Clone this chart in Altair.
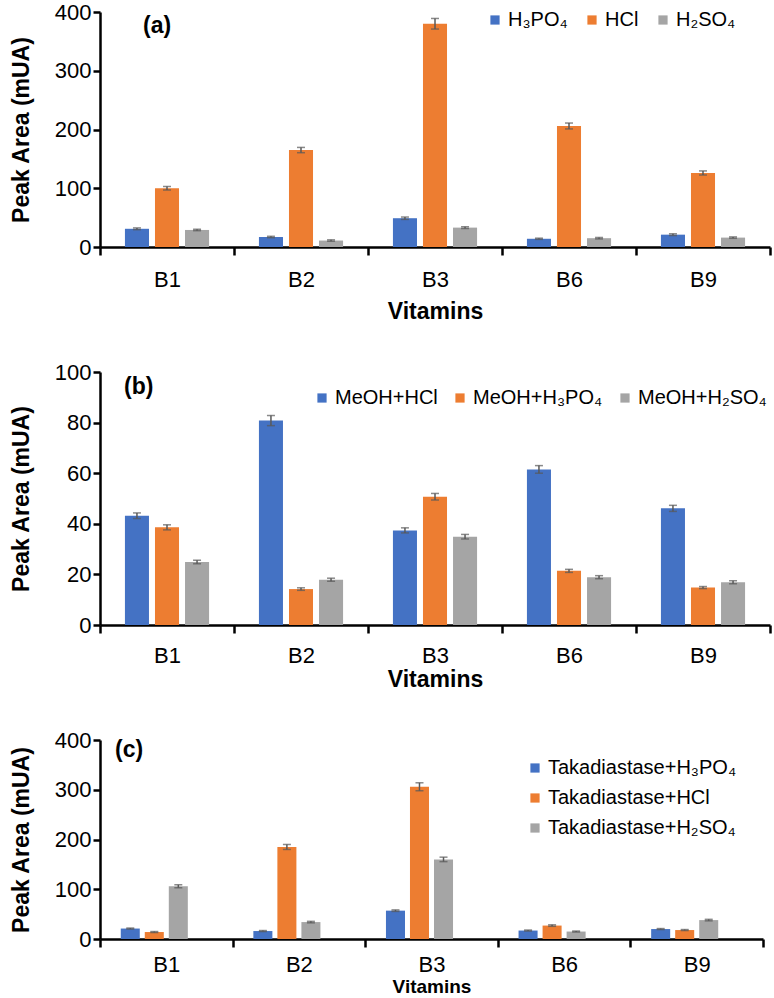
import altair as alt
import pandas as pd

vitamins = ["B1", "B2", "B3", "B6", "B9"]

# (a) acid hydrolysis
acid_series = ["H₃PO₄", "HCl", "H₂SO₄"]
acid_h3po4 = [31, 17, 49, 14, 21]
acid_hcl = [100, 165, 380, 206, 126]
acid_h2so4 = [29, 11, 33, 15, 16]
acid_err_h3po4 = [1.5, 1.2, 2.0, 1.0, 1.5]
acid_err_hcl = [3.0, 4.5, 9.0, 5.0, 3.5]
acid_err_h2so4 = [1.2, 1.2, 1.5, 1.2, 1.2]

# (b) methanol + acid
meoh_series = ["MeOH+HCl", "MeOH+H₃PO₄", "MeOH+H₂SO₄"]
meoh_hcl = [43.2, 80.8, 37.4, 61.5, 46.1]
meoh_h3po4 = [38.6, 14.2, 50.7, 21.4, 14.8]
meoh_h2so4 = [24.9, 17.9, 34.9, 18.9, 16.9]
meoh_err_hcl = [1.1, 2.0, 1.0, 1.5, 1.2]
meoh_err_h3po4 = [1.0, 0.5, 1.3, 0.6, 0.4]
meoh_err_h2so4 = [0.7, 0.6, 0.9, 0.6, 0.6]

# (c) takadiastase + acid
taka_series = ["Takadiastase+H₃PO₄", "Takadiastase+HCl", "Takadiastase+H₂SO₄"]
taka_h3po4 = [21, 16, 57, 17, 20]
taka_hcl = [14, 185, 306, 27, 18]
taka_h2so4 = [106, 34, 160, 15, 38]
taka_err_h3po4 = [1.0, 1.0, 1.5, 1.0, 1.0]
taka_err_hcl = [1.0, 5.0, 8.0, 1.5, 1.0]
taka_err_h2so4 = [3.0, 1.5, 4.5, 1.0, 1.5]

colors = ["#4472C4", "#ED7D31", "#A5A5A5"]
err_color = "#595959"
y_title = "Peak Area (mUA)"


def long_table(series, values, errors):
    rows = []
    for s, vals, errs in zip(series, values, errors):
        for v, val, e in zip(vitamins, vals, errs):
            rows.append({"Vitamin": v, "Treatment": s, "Area": val,
                         "Lo": val - e, "Hi": val + e})
    return pd.DataFrame(rows)


def panel(df, series, offset_domain, inner, outer, ymax, ystep, width, height,
          letter, letter_xy, legend, label_pad, title_pad, title_size):
    x = alt.X("Vitamin:N", sort=vitamins,
              scale=alt.Scale(paddingInner=0, paddingOuter=0),
              axis=alt.Axis(title="Vitamins", tickBand="extent", labelAngle=0,
                            labelPadding=label_pad, titlePadding=title_pad,
                            titleFontSize=title_size, tickSize=8))
    xo = alt.XOffset("Treatment:N",
                     scale=alt.Scale(domain=offset_domain, paddingInner=inner,
                                     paddingOuter=outer))
    yscale = alt.Scale(domain=[0, ymax], nice=False)
    yaxis = alt.Axis(values=list(range(0, ymax + 1, ystep)), titlePadding=21)

    bars = alt.Chart(df).mark_bar().encode(
        x=x, xOffset=xo,
        y=alt.Y("Area:Q", scale=yscale, axis=yaxis, title=y_title),
        color=alt.Color("Treatment:N", title=None,
                        scale=alt.Scale(domain=series, range=colors),
                        legend=legend),
    )
    whisk = alt.Chart(df).mark_rule(color=err_color, strokeWidth=1.5).encode(
        x=x, xOffset=xo,
        y=alt.Y("Lo:Q", scale=yscale, axis=yaxis, title=y_title),
        y2="Hi:Q",
    )
    cap_lo = alt.Chart(df).mark_tick(color=err_color, thickness=1.5, size=8).encode(
        x=x, xOffset=xo,
        y=alt.Y("Lo:Q", scale=yscale, axis=yaxis, title=y_title),
    )
    cap_hi = alt.Chart(df).mark_tick(color=err_color, thickness=1.5, size=8).encode(
        x=x, xOffset=xo,
        y=alt.Y("Hi:Q", scale=yscale, axis=yaxis, title=y_title),
    )
    tag = alt.Chart(pd.DataFrame({"t": [letter]})).mark_text(
        fontSize=23, fontWeight="bold", align="left", baseline="middle",
        color="black",
    ).encode(text="t:N", x=alt.value(letter_xy[0]), y=alt.value(letter_xy[1]))
    return alt.layer(bars, whisk, cap_lo, cap_hi, tag).properties(
        width=width, height=height)


acid_df = long_table(acid_series, [acid_h3po4, acid_hcl, acid_h2so4],
                     [acid_err_h3po4, acid_err_hcl, acid_err_h2so4])
meoh_df = long_table(meoh_series, [meoh_hcl, meoh_h3po4, meoh_h2so4],
                     [meoh_err_hcl, meoh_err_h3po4, meoh_err_h2so4])
taka_df = long_table(taka_series, [taka_h3po4, taka_hcl, taka_h2so4],
                     [taka_err_h3po4, taka_err_hcl, taka_err_h2so4])

leg_common = dict(orient="none", symbolType="square", symbolSize=85,
                  symbolStrokeWidth=0, labelFontSize=20, labelLimit=400,
                  labelOffset=3, labelColor="black")

panel_a = panel(
    acid_df, acid_series, acid_series, 0.2, 0.83, 400, 100, 670, 235,
    "(a)", (43, 14),
    alt.Legend(direction="horizontal", legendX=385, legendY=-2,
               gridAlign="none", columnPadding=14, **leg_common),
    14, 10, 23)

panel_b = panel(
    meoh_df, meoh_series, meoh_series, 0.2, 0.83, 100, 20, 670, 253,
    "(b)", (24, 15),
    alt.Legend(direction="horizontal", legendX=212, legendY=16,
               gridAlign="none", columnPadding=12, **leg_common),
    12, 2, 23)

panel_c = panel(
    taka_df, taka_series, taka_series + ["·"], 0.208, 0.864, 400, 100, 663, 199,
    "(c)", (15, 10),
    alt.Legend(direction="vertical", legendX=425, legendY=18,
               rowPadding=10, **leg_common),
    7, 2, 19)

top_pair = alt.vconcat(panel_a, panel_b, spacing=38).resolve_scale(
    color="independent", xOffset="independent")

chart = alt.vconcat(top_pair, panel_c, spacing=38).resolve_scale(
    color="independent", xOffset="independent"
).properties(
    padding={"left": 10, "top": 1, "right": 0, "bottom": 0}
).configure(font="Liberation Sans").configure_view(strokeWidth=0).configure_axis(
    domainColor="black", domainWidth=2.5, tickColor="black", tickWidth=2.5,
    tickSize=7, labelColor="black", titleColor="black", labelFontSize=22,
    titleFontSize=23, titleFontWeight="bold", grid=False,
    labelFont="Liberation Sans", titleFont="Liberation Sans",
)

chart.save("out.html", embed_options={"renderer": "svg", "actions": False})
